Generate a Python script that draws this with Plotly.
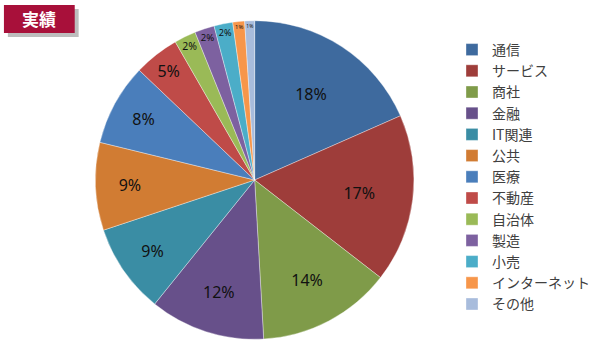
import plotly.graph_objects as go

categories = ["通信", "サービス", "商社", "金融", "IT関連", "公共", "医療", "不動産",
              "自治体", "製造", "小売", "インターネット", "その他"]
values = [18.4, 17.1, 13.6, 11.7, 9.1, 8.9, 8.3, 4.6, 2.2, 2.0, 1.9, 1.2, 1.0]
colors = ["#3E6A9E", "#9E3D3A", "#7F9B49", "#67508A", "#3A8DA4", "#D17C33", "#4A7EBB",
          "#BF4B48", "#9ABA57", "#7D61A0", "#4BADC8", "#F7964A", "#A8BCDC"]
title_text = "実績"

W, H = 595, 352
cx, cy, r = 259, 180, 162

fig = go.Figure()
fig.add_trace(go.Pie(
    labels=categories, values=values, sort=False, direction="clockwise", rotation=0,
    marker=dict(colors=colors, line=dict(color="rgba(255,255,255,0.6)", width=0.6)),
    texttemplate="%{percent:.0%}", textposition="inside", insidetextorientation="horizontal",
    textfont=dict(family="Noto Sans", size=16, color="#111111"),
    domain=dict(x=[(cx - r) / W, (cx + r) / W], y=[(H - cy - r) / H, (H - cy + r) / H]),
    hoverinfo="label+percent",
))

fig.update_layout(
    width=W, height=H, margin=dict(l=0, r=0, t=0, b=0),
    paper_bgcolor="white", plot_bgcolor="white",
    showlegend=True,
    legend=dict(x=460 / W, y=1 - 34 / H, xanchor="left", yanchor="top",
                font=dict(family="Noto Sans CJK JP", size=14, color="#404040"),
                tracegroupgap=0, itemwidth=30, bgcolor="rgba(0,0,0,0)"),
    shapes=[
        dict(type="rect", xref="paper", yref="paper", x0=8 / W, x1=80 / W,
             y0=1 - 37 / H, y1=1 - 9 / H, fillcolor="#BDBDBD", line=dict(width=0), layer="below"),
        dict(type="rect", xref="paper", yref="paper", x0=4 / W, x1=76 / W,
             y0=1 - 33 / H, y1=1 - 5 / H, fillcolor="#A8103A", line=dict(width=0)),
    ],
    annotations=[
        dict(text=title_text, xref="paper", yref="paper", x=40 / W, y=1 - 19 / H,
             xanchor="center", yanchor="middle", showarrow=False,
             font=dict(family="Noto Sans CJK JP", size=17, color="white", weight="bold")),
    ],
)

fig.write_html("out.html")
